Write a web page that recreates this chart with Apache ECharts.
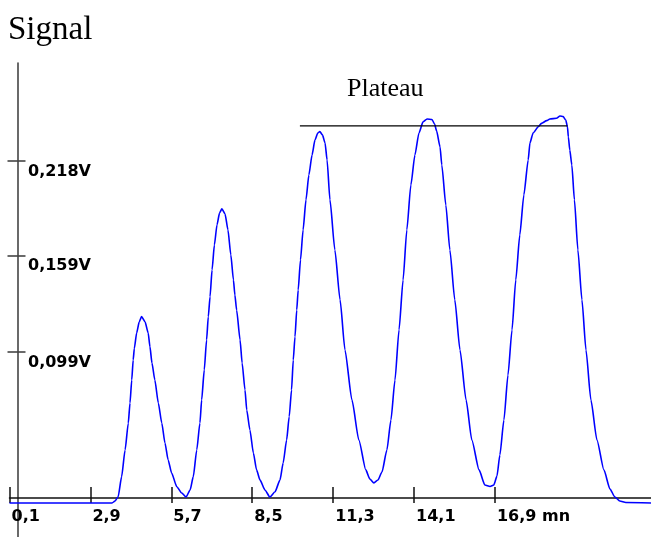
<!DOCTYPE html>
<html><head><meta charset="utf-8">
<script src="https://cdn.jsdelivr.net/npm/echarts@6/dist/echarts.min.js"></script>
<style>html,body{margin:0;padding:0;background:#fff}#c{width:651px;height:537px}</style>
</head><body><div id="c"></div>
<script>
const timeMn = [0.10, 3.65, 3.75, 3.86, 3.98, 4.10, 4.21, 4.27, 4.33, 4.38,
  4.42, 4.50, 4.59, 4.67, 4.79, 4.90, 4.96, 5.03, 5.13, 5.25,
  5.37, 5.48, 5.59, 5.71, 5.89, 6.06, 6.21, 6.35, 6.46, 6.58,
  6.69, 6.75, 6.84, 6.92, 6.98, 7.04, 7.11, 7.19, 7.28, 7.37,
  7.45, 7.56, 7.66, 7.76, 7.85, 7.90, 7.96, 8.08, 8.15, 8.25,
  8.31, 8.42, 8.54, 8.65, 8.77, 8.94, 9.11, 9.29, 9.46, 9.57,
  9.69, 9.78, 9.86, 9.92, 9.98, 10.04, 10.09, 10.17, 10.26, 10.36,
  10.46, 10.57, 10.67, 10.77, 10.84, 10.93, 11.02, 11.09, 11.19, 11.36,
  11.54, 11.71, 11.95, 12.19, 12.43, 12.57, 12.71, 12.85, 12.99, 13.16,
  13.30, 13.44, 13.58, 13.72, 13.85, 13.99, 14.13, 14.27, 14.41, 14.55,
  14.72, 14.81, 14.88, 15.00, 15.06, 15.20, 15.34, 15.51, 15.69, 15.90,
  16.10, 16.35, 16.55, 16.73, 16.86, 16.97, 17.07, 17.21, 17.35, 17.49,
  17.62, 17.76, 17.90, 18.05, 18.11, 18.22, 18.40, 18.51, 18.69, 18.80,
  19.03, 19.15, 19.26, 19.35, 19.41, 19.44, 19.49, 19.56, 19.65, 19.77,
  19.91, 20.05, 20.22, 20.43, 20.67, 20.88, 21.05, 21.22, 21.43, 22.30];
const signalV = [0.0047, 0.0047, 0.0059, 0.0086, 0.0211, 0.0377, 0.0543, 0.0670, 0.0813, 0.0938,
  0.1010, 0.1106, 0.1176, 0.1208, 0.1176, 0.1106, 0.1021, 0.0919, 0.0813, 0.0670,
  0.0545, 0.0421, 0.0315, 0.0234, 0.0148, 0.0109, 0.0084, 0.0128, 0.0211, 0.0377,
  0.0545, 0.0689, 0.0876, 0.1062, 0.1208, 0.1332, 0.1499, 0.1654, 0.1779, 0.1854,
  0.1879, 0.1847, 0.1748, 0.1592, 0.1436, 0.1343, 0.1249, 0.1062, 0.0919, 0.0751,
  0.0626, 0.0502, 0.0358, 0.0253, 0.0190, 0.0128, 0.0084, 0.0117, 0.0190, 0.0296,
  0.0439, 0.0585, 0.0751, 0.0938, 0.1083, 0.1249, 0.1374, 0.1561, 0.1748, 0.1935,
  0.2090, 0.2215, 0.2308, 0.2352, 0.2361, 0.2340, 0.2290, 0.2184, 0.1935, 0.1623,
  0.1312, 0.1000, 0.0689, 0.0439, 0.0253, 0.0196, 0.0172, 0.0190, 0.0240, 0.0377,
  0.0564, 0.0813, 0.1125, 0.1436, 0.1748, 0.2028, 0.2215, 0.2352, 0.2421, 0.2439,
  0.2436, 0.2408, 0.2365, 0.2265, 0.2153, 0.1903, 0.1623, 0.1312, 0.1000, 0.0689,
  0.0439, 0.0253, 0.0159, 0.0150, 0.0159, 0.0215, 0.0346, 0.0564, 0.0844, 0.1125,
  0.1436, 0.1717, 0.1966, 0.2184, 0.2290, 0.2352, 0.2391, 0.2412, 0.2429, 0.2439,
  0.2444, 0.2458, 0.2454, 0.2433, 0.2389, 0.2327, 0.2246, 0.2153, 0.1935, 0.1623,
  0.1312, 0.1000, 0.0689, 0.0439, 0.0253, 0.0134, 0.0084, 0.0059, 0.0050, 0.0047];
const xTickValues = [0.1, 2.9, 5.7, 8.5, 11.3, 14.1, 16.9];
const xTickLabels = ['0,1', '2,9', '5,7', '8,5', '11,3', '14,1', '16,9 mn'];
const yTickValues = [0.099, 0.159, 0.218];
const yTickLabels = ['0,099V', '0,159V', '0,218V'];
const plateauTime = [10.15, 19.41];
const plateauLevel = [0.2396, 0.2396];

function lookup(vals, labels) {
  return function (v) {
    for (let i = 0; i < vals.length; i++) if (Math.abs(vals[i] - v) < 1e-9) return labels[i];
    return '';
  };
}
const labelFont = {fontFamily: 'DejaVu Sans', fontWeight: 'bold', fontSize: 16, color: '#000'};
const X_MIN = 0.1, X_MAX = 22.3, Y_MIN = -0.0165, Y_MAX = 0.2788;
const xLine = {color: '#111', width: 1.5};
const yLine = {color: '#444', width: 1.6};

const chart = echarts.init(document.getElementById('c'));
chart.setOption({
  animation: false,
  backgroundColor: '#fff',
  title: [
    {text: 'Signal', left: 8, top: 14, padding: 0,
     textStyle: {fontFamily: 'Liberation Serif', fontSize: 33, fontWeight: 'normal', color: '#000'}},
    {text: 'Plateau', left: 347, top: 76, padding: 0,
     textStyle: {fontFamily: 'Liberation Serif', fontSize: 26, fontWeight: 'normal', color: '#000'}}
  ],
  grid: {left: 9.5, right: 0, top: 63, bottom: 0, containLabel: false},
  xAxis: [
    {type: 'value', min: X_MIN, max: X_MAX, position: 'bottom', offset: -39,
     axisLine: {show: true, onZero: false, lineStyle: xLine},
     axisTick: {show: true, inside: true, length: 11, customValues: xTickValues, lineStyle: xLine},
     axisLabel: Object.assign({show: true, customValues: xTickValues, formatter: lookup(xTickValues, xTickLabels),
       align: 'left', margin: 11, padding: [0, 0, 0, 2]}, labelFont),
     splitLine: {show: false}},
    {type: 'value', min: X_MIN, max: X_MAX, position: 'bottom', offset: -34,
     axisLine: {show: false, onZero: false},
     axisTick: {show: true, inside: true, length: 16, customValues: xTickValues, lineStyle: xLine},
     axisLabel: {show: false}, splitLine: {show: false}}
  ],
  yAxis: [
    {type: 'value', min: Y_MIN, max: Y_MAX, position: 'left', offset: -8,
     axisLine: {show: true, onZero: false, lineStyle: yLine},
     axisTick: {show: false},
     axisLabel: Object.assign({show: true, inside: true, customValues: yTickValues, formatter: lookup(yTickValues, yTickLabels),
       align: 'left', verticalAlign: 'top', margin: 10.5, padding: [3, 0, 0, 0]}, labelFont),
     splitLine: {show: false}},
    {type: 'value', min: Y_MIN, max: Y_MAX, position: 'left', offset: 2,
     axisLine: {show: false, onZero: false},
     axisTick: {show: true, inside: true, length: 18, customValues: yTickValues, lineStyle: yLine},
     axisLabel: {show: false}, splitLine: {show: false}}
  ],
  series: [
    {type: 'line', xAxisIndex: 0, yAxisIndex: 0, symbol: 'none', showSymbol: false,
     smooth: 0.2, smoothMonotone: 'x',
     data: timeMn.map((t, i) => [t, signalV[i]]),
     lineStyle: {color: '#0000ff', width: 1.6}, itemStyle: {color: '#0000ff'}},
    {type: 'line', xAxisIndex: 0, yAxisIndex: 0, symbol: 'none', showSymbol: false,
     data: plateauTime.map((t, i) => [t, plateauLevel[i]]),
     lineStyle: {color: '#000', width: 1.3}, itemStyle: {color: '#000'}}
  ]
});
</script>
</body></html>
